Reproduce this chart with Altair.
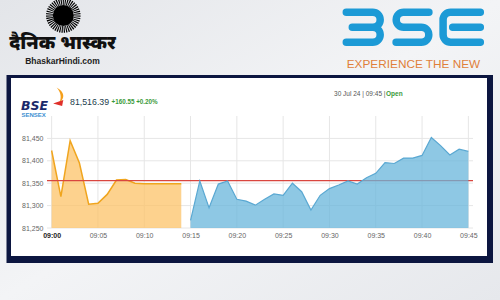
import altair as alt
import pandas as pd

# ---------------- data ----------------
orange_times = ["09:00", "09:01", "09:02", "09:03", "09:04", "09:05", "09:06", "09:07",
                "09:08", "09:09", "09:10", "09:11", "09:12", "09:13", "09:14"]
orange_values = [81423, 81320, 81445, 81395, 81303, 81305, 81325, 81357,
                 81358, 81350, 81349, 81349, 81349, 81349, 81349]

blue_times = ["09:15", "09:16", "09:17", "09:18", "09:19", "09:20", "09:21", "09:22",
              "09:23", "09:24", "09:25", "09:26", "09:27", "09:28", "09:29", "09:30",
              "09:31", "09:32", "09:33", "09:34", "09:35", "09:36", "09:37", "09:38",
              "09:39", "09:40", "09:41", "09:42", "09:43", "09:44", "09:45"]
blue_values = [81267, 81355, 81295, 81348, 81355, 81314, 81310, 81301,
               81314, 81326, 81323, 81350, 81331, 81290, 81323, 81338,
               81346, 81355, 81348, 81362, 81372, 81396, 81394, 81406,
               81406, 81412, 81452, 81434, 81413, 81426, 81421]

x_tick_labels = ["09:00", "09:05", "09:10", "09:15", "09:20", "09:25",
                 "09:30", "09:35", "09:40", "09:45"]
y_ticks = [81250, 81300, 81350, 81400, 81450]
y_domain = [81250, 81500]
prev_close = 81355.84

last_value_text = "81,516.39"
change_text = "+160.55 +0.20%"
date_text = "30 Jul 24 | 09:45 | "
status_text = "Open"
index_logo_text = "BSE"
index_name_text = "SENSEX"
paper_name_text = "दैनिक भास्कर"
paper_site_text = "BhaskarHindi.com"
exchange_tagline = "EXPERIENCE THE NEW"

DAY = "2024-07-30T"


def dt(hhmm, sec=0):
    h, m = hhmm.split(":")
    return alt.DateTime(year=2024, month=7, date=30, hours=int(h), minutes=int(m), seconds=sec)


df_orange = pd.DataFrame({"t": [DAY + t + ":00" for t in orange_times], "v": orange_values})
df_blue = pd.DataFrame({"t": [DAY + t + ":00" for t in blue_times], "v": blue_values})
df_vgrid = pd.DataFrame({"t": [DAY + t + ":00" for t in x_tick_labels]})
df_hgrid = pd.DataFrame({"v": y_ticks})
df_prev = pd.DataFrame({"v": [prev_close]})
one = pd.DataFrame({"k": [0]})

# ---------------- layout ----------------
W, H = 426, 112
OX, OY = 47, 116          # plot-area origin inside the 500x300 page


def rx(x):
    return x - OX


def ry(y):
    return y - OY


x_scale = alt.Scale(domain=[dt("08:59", 30), dt("09:45", 30)])
y_scale = alt.Scale(domain=y_domain, zero=False, nice=False)

x_axis = alt.Axis(
    title=None, values=[dt(t) for t in x_tick_labels], format="%H:%M",
    labelFont="Liberation Sans", labelFontSize=7, labelPadding=3,
    labelColor={"condition": {"test": "minutes(datum.value) == 0", "value": "#222222"}, "value": "#666666"},
    labelFontWeight={"condition": {"test": "minutes(datum.value) == 0", "value": "bold"}, "value": "normal"},
    domain=False, ticks=False, grid=False, zindex=1, labelOverlap=False, labelFlush=False,
)
y_axis = alt.Axis(
    title=None, values=y_ticks, format=",d",
    labelFont="Liberation Sans", labelFontSize=7, labelColor="#666666", labelPadding=4,
    domain=False, ticks=False, grid=False, zindex=1,
)

X = alt.X("t:T", scale=x_scale, axis=x_axis)
Y = alt.Y("v:Q", scale=y_scale, axis=y_axis)

# ---------------- decorations ----------------
bg = alt.Chart(one).mark_rect(
    color=alt.Gradient(gradient="linear", x1=0, y1=0, x2=1, y2=1,
                       stops=[alt.GradientStop(color="#e3e5e9", offset=0),
                              alt.GradientStop(color="#f3f4f6", offset=0.5),
                              alt.GradientStop(color="#e6e8ec", offset=1)])
).encode(x=alt.value(rx(0)), x2=alt.value(rx(500)), y=alt.value(ry(0)), y2=alt.value(ry(300)))

frame = alt.Chart(one).mark_rect(color="#0c1640").encode(
    x=alt.value(rx(6.5)), x2=alt.value(rx(493)), y=alt.value(ry(75)), y2=alt.value(ry(263)))
panel = alt.Chart(one).mark_rect(color="#ffffff").encode(
    x=alt.value(rx(11)), x2=alt.value(rx(487)), y=alt.value(ry(78)), y2=alt.value(ry(256)))

hgrid = alt.Chart(df_hgrid).mark_rule(color="#e6e6e6", strokeWidth=1).encode(
    y=alt.Y("v:Q", scale=y_scale, axis=y_axis))
vgrid = alt.Chart(df_vgrid).mark_rule(color="#e6e6e6", strokeWidth=1).encode(
    x=alt.X("t:T", scale=x_scale, axis=x_axis))

orange_area = alt.Chart(df_orange).mark_area(
    color="#fcc368", opacity=0.75, line={"color": "#f0a51e", "strokeWidth": 1.5}
).encode(x=X, y=Y, y2=alt.datum(y_domain[0]))

prev_rule = alt.Chart(df_prev).mark_rule(color="#d9463f", strokeWidth=1.2).encode(
    y=alt.Y("v:Q", scale=y_scale, axis=y_axis))

blue_area = alt.Chart(df_blue).mark_area(
    color="#68b6db", opacity=0.75, line={"color": "#5aa8d2", "strokeWidth": 1.2}
).encode(x=X, y=Y, y2=alt.datum(y_domain[0]))


def text_layer(s, x, y, align="left", baseline="middle", size=7, weight="normal",
               color="#333333", font="Liberation Sans", style="normal"):
    return alt.Chart(one).mark_text(
        align=align, baseline=baseline, fontSize=size, fontWeight=weight,
        color=color, font=font, fontStyle=style
    ).encode(x=alt.value(rx(x)), y=alt.value(ry(y)), text=alt.value(s))


header = [
    text_layer(last_value_text, 70, 101.5, size=8.8, color="#233d4d"),
    text_layer(change_text, 111.5, 102, size=6.3, weight="bold", color="#3a9a3a"),
    text_layer(date_text, 385.5, 94, align="right", size=6.5, color="#555555"),
    text_layer(status_text, 386, 94, size=6.5, weight="bold", color="#3a9a3a"),
    text_layer(index_logo_text, 21, 109.5, baseline="alphabetic", size=12.5, weight="bold",
               color="#1b2a6b", font="DejaVu Sans", style="italic"),
    text_layer(index_name_text, 21.5, 114.8, size=6, weight="bold", color="#3d8fd1"),
]

flame = alt.Chart(one).mark_point(
    shape="M -0.3 -0.95 C 0.7 -0.4 0.8 0.4 0.05 0.95 C 0.35 0.3 0.25 -0.35 -0.3 -0.95 Z",
    filled=True, color="#f5a01c", opacity=1, size=256
).encode(x=alt.value(rx(59)), y=alt.value(ry(95)))
wedge = alt.Chart(one).mark_point(
    shape="M -0.9 0.1 L 0.8 -0.5 L 0.6 0.5 Z",
    filled=True, color="#e0302a", opacity=1, size=144
).encode(x=alt.value(rx(58.5)), y=alt.value(ry(103)))

# Dainik Bhaskar logo
sun_halo = alt.Chart(one).mark_point(
    shape="circle", filled=False, color="#000000", strokeWidth=7, strokeDash=[1.1, 0.9],
    opacity=1, size=760
).encode(x=alt.value(rx(63.3)), y=alt.value(ry(15.5)))
sun_core = alt.Chart(one).mark_point(
    shape="circle", filled=True, color="#000000", opacity=1, size=440
).encode(x=alt.value(rx(63.3)), y=alt.value(ry(15.5)))
paper_texts = [
    text_layer(paper_name_text, 62.5, 42.5, align="center", size=19, weight=900,
               color="#111111", font="Noto Sans"),
    text_layer(paper_site_text, 62.5, 61, align="center", size=8.5, weight="bold",
               color="#222222"),
]

# BSE exchange logo (stroked glyph paths)
BSE_BLUE = "#1c9ad6"
glyph_B = ("M -0.85 -0.75 L 0.47 -0.75 A 0.375 0.375 0 0 1 0.47 0 L -0.55 0 "
           "M 0.47 0 A 0.375 0.375 0 0 1 0.47 0.75 L -0.85 0.75")
glyph_S = ("M 0.82 -0.75 L -0.44 -0.75 A 0.375 0.375 0 0 0 -0.44 0 L 0.44 0 "
           "A 0.375 0.375 0 0 1 0.44 0.75 L -0.82 0.75")
glyph_E = ("M 0.93 -0.75 L -0.55 -0.75 A 0.38 0.38 0 0 0 -0.93 -0.37 L -0.93 0.37 "
           "A 0.38 0.38 0 0 0 -0.55 0.75 L 0.93 0.75 M -0.45 0 L 0.93 0")
logo_glyphs = [
    alt.Chart(one).mark_point(shape=g, filled=False, color=BSE_BLUE, strokeWidth=7.5,
                              strokeCap="round", strokeJoin="round", opacity=1, size=1600)
    .encode(x=alt.value(rx(cx)), y=alt.value(ry(27.2)))
    for g, cx in [(glyph_B, 363.3), (glyph_S, 412.5), (glyph_E, 461.7)]
]
tagline = text_layer(exchange_tagline, 413.5, 63.5, align="center", size=11.8,
                     color="#e07f3a")

chart = alt.layer(
    bg, frame, panel, hgrid, vgrid, orange_area, prev_rule, blue_area,
    *header, flame, wedge, sun_halo, sun_core, *paper_texts, *logo_glyphs, tagline
).properties(
    width=W, height=H,
    padding={"left": OX, "top": OY, "right": 500 - OX - W, "bottom": 300 - OY - H},
    autosize=alt.AutoSizeParams(type="none"),
    background="#eceef1",
).configure_view(stroke=None)

chart.save("out.html", embed_options={"renderer": "svg", "actions": False})
